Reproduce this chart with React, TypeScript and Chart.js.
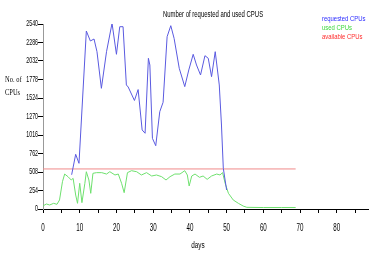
import React, { useEffect, useRef } from "react";
import { Chart, registerables } from "chart.js";

Chart.register(...registerables);

const chartTitle = "Number of requested and used CPUS";
const yAxisLabel = ["No. of", "CPUs"];
const xAxisLabel = "days";
const seriesNames = ["requested CPUs", "used CPUs", "available CPUs"];

const requestedDays = [
  7.8, 8.9, 9.8, 11.8, 12.9, 13.9, 14.7, 15.9, 17.3, 18.8, 20.0, 20.9, 21.8, 22.7, 23.2,
  24.9, 25.9, 27.0, 27.8, 28.7, 29.1, 29.8, 30.7, 31.8, 32.7, 33.8, 34.8, 35.7, 37.1,
  38.6, 39.7, 40.9, 41.8, 42.9, 44.1, 45.0, 45.9, 46.9, 48.0, 48.6, 49.1, 50.0,
];
const requestedCPUs = [
  470, 751, 627, 2444, 2307, 2334, 2160, 1657, 2160, 2550, 2124, 2503, 2503, 1703, 1675,
  1490, 1640, 1085, 1040, 2069, 1977, 970, 869, 1336, 1465, 2366, 2517, 2343, 1932,
  1680, 1909, 2124, 1977, 1840, 2105, 2069, 1817, 2160, 1703, 1153, 559, 261,
];

const usedDays = [
  0, 0.9, 1.8, 2.9, 3.8, 4.5, 5.3, 5.9, 6.8, 7.7, 8.2, 8.9, 9.4, 10.0, 10.6, 11.4, 11.8,
  12.5, 13.0, 13.6, 14.6, 16.0, 17.3, 18.2, 19.6, 20.5, 21.4, 22.1, 23.0, 24.1, 25.5,
  26.8, 28.2, 29.6, 30.9, 32.3, 33.5, 34.6, 35.9, 37.3, 38.6, 39.3, 39.8, 40.5, 41.4,
  42.6, 43.6, 44.7, 45.9, 47.3, 48.2, 48.9, 49.6, 50.5, 51.8, 53.2, 54.5, 55.5, 60, 65, 68.8,
];
const usedCPUs = [
  41, 69, 55, 78, 64, 124, 375, 480, 444, 398, 421, 192, 78, 353, 87, 353, 512,
  398, 215, 490, 499, 499, 480, 512, 467, 480, 353, 224, 499, 526, 512,
  467, 499, 453, 467, 444, 398, 444, 480, 480, 526, 467, 316, 453, 480,
  435, 453, 407, 453, 480, 467, 499, 353, 215, 124, 78, 41, 23, 20, 20, 20,
];

const availableDays = [0, 68.8];
const availableCPUs = [550, 550];

const yTickStep = 254;
const yMax = 2540;
const xTickStep = 5;
const xLabelStep = 10;
const xMax = 88.5;

const lineColors = ["#5a5ae0", "#6ee06e", "#f08a8a"];
const legendColors = ["#2a2aff", "#3ad83a", "#ff2a2a"];

const sans = '"Liberation Sans", Arial, sans-serif';

const toPoints = (xs: number[], ys: number[]) => xs.map((x, i) => ({ x, y: ys[i] }));

function drawCondensed(
  ctx: CanvasRenderingContext2D,
  text: string,
  x: number,
  y: number,
  align: CanvasTextAlign,
  font: string,
  sx: number,
  color: string
) {
  ctx.save();
  ctx.translate(x, y);
  ctx.scale(sx, 1);
  ctx.font = font;
  ctx.fillStyle = color;
  ctx.textAlign = align;
  ctx.textBaseline = "middle";
  ctx.fillText(text, 0, 0);
  ctx.restore();
}

const textPlugin = {
  id: "refTexts",
  afterDraw(chart: any) {
    const ctx = chart.ctx as CanvasRenderingContext2D;
    const xs = chart.scales.x;
    const ys = chart.scales.y;
    xs.ticks.forEach((t: any) => {
      if (t.value % xLabelStep === 0) {
        drawCondensed(ctx, String(t.value), xs.getPixelForValue(t.value), 228, "center", `10px ${sans}`, 0.62, "#000");
      }
    });
    ys.ticks.forEach((t: any) => {
      drawCondensed(ctx, String(t.value), 38, ys.getPixelForValue(t.value), "right", `8.5px ${sans}`, 0.62, "#000");
    });
    drawCondensed(ctx, chartTitle, 213, 15, "center", `8.5px ${sans}`, 0.7, "#000");
    chart.data.datasets.forEach((ds: any, i: number) => {
      drawCondensed(ctx, ds.label, 322, 19 + i * 9, "left", `8px ${sans}`, 0.74, legendColors[i]);
    });
    const serif = '9px "Liberation Serif", "Times New Roman", serif';
    drawCondensed(ctx, yAxisLabel[0], 5, 80, "left", serif, 0.72, "#000");
    drawCondensed(ctx, yAxisLabel[1], 5, 93, "left", serif, 0.72, "#000");
    drawCondensed(ctx, xAxisLabel, 198, 246, "center", `8.5px ${sans}`, 0.75, "#000");
  },
};

export default function App() {
  const canvasRef = useRef<HTMLCanvasElement | null>(null);

  useEffect(() => {
    document.body.style.margin = "0";
    const canvas = canvasRef.current;
    if (!canvas) return;
    const chart = new Chart(canvas, {
      type: "line",
      data: {
        datasets: [
          {
            label: seriesNames[0],
            data: toPoints(requestedDays, requestedCPUs),
            borderColor: lineColors[0],
            borderWidth: 1,
            pointRadius: 0,
            tension: 0,
            fill: false,
          },
          {
            label: seriesNames[1],
            data: toPoints(usedDays, usedCPUs),
            borderColor: lineColors[1],
            borderWidth: 1,
            pointRadius: 0,
            tension: 0,
            fill: false,
          },
          {
            label: seriesNames[2],
            data: toPoints(availableDays, availableCPUs),
            borderColor: lineColors[2],
            borderWidth: 1,
            pointRadius: 0,
            tension: 0,
            fill: false,
          },
        ],
      },
      options: {
        responsive: false,
        animation: false,
        events: [],
        layout: { padding: { top: 24, right: 8, left: 0, bottom: 0 } },
        plugins: {
          legend: { display: false },
          title: { display: false },
          tooltip: { enabled: false },
        },
        scales: {
          x: {
            type: "linear",
            min: 0,
            max: xMax,
            border: { display: true, color: "#000", width: 1 },
            grid: {
              drawOnChartArea: false,
              drawTicks: true,
              tickLength: 4,
              tickColor: "#000",
            },
            ticks: {
              display: false,
              stepSize: xTickStep,
              includeBounds: false,
              autoSkip: false,
              maxRotation: 0,
            },
            afterFit: (scale: any) => {
              scale.height = 54;
            },
          },
          y: {
            type: "linear",
            min: 0,
            max: yMax,
            border: { display: true, color: "#999", width: 1 },
            grid: {
              drawOnChartArea: false,
              drawTicks: true,
              tickLength: 5,
              tickColor: "#000",
            },
            ticks: {
              display: false,
              stepSize: yTickStep,
              autoSkip: false,
            },
            afterFit: (scale: any) => {
              scale.width = 43;
            },
          },
        },
      },
      plugins: [textPlugin],
    });
    return () => chart.destroy();
  }, []);

  return (
    <div style={{ width: 376, height: 263 }}>
      <canvas ref={canvasRef} width={376} height={263} />
    </div>
  );
}
